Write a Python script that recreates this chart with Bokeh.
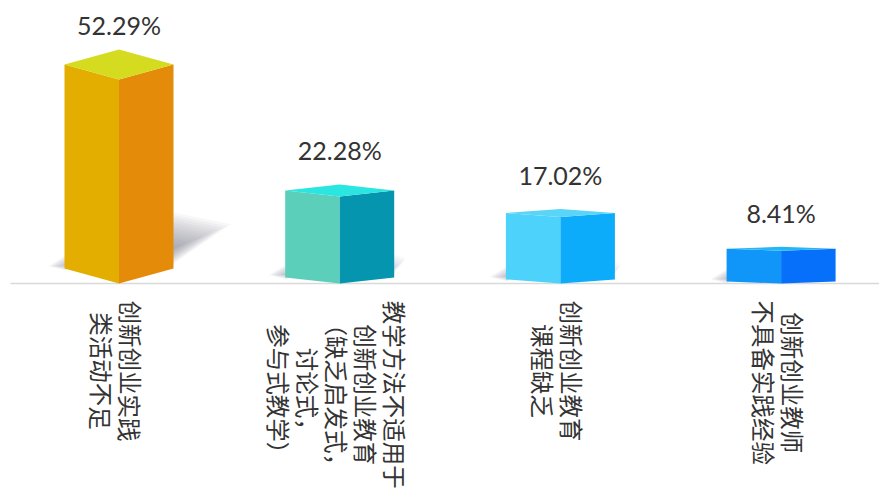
import math
from bokeh.embed import file_html
from bokeh.resources import INLINE
from bokeh.plotting import figure
from bokeh.models import Range1d
from bokeh.core.properties import value

# --- data ---
category_lines = [
    ["创新创业实践", "类活动不足"],
    ["教学方法不适用于", "创新创业教育", "（缺乏启发式，", "讨论式，", "参与式教学）"],
    ["创新创业教育", "课程缺乏"],
    ["创新创业教师", "不具备实践经验"],
]
values = [52.29, 22.28, 17.02, 8.41]
value_labels = ["52.29%", "22.28%", "17.02%", "8.41%"]
depths = [3.85, 1.55, 1.05, 0.5]          # apparent depth of the box, in % units
label_gaps = [25, 35, 34, 34]             # px from top of box to label centre
left_colors = ["#E3AE00", "#5CCFBB", "#4DD2FB", "#0F96F8"]
right_colors = ["#E58B0A", "#0695AF", "#0CACFA", "#0670FB"]
top_colors = ["#D5DC20", "#2BE6E0", "#5AD5F8", "#27B6F5"]
shadow_alpha = [0.06, 0.02, 0.012, 0.0]
shadow_reach = [0.28, 0.14, 0.10, 0.05]

W, H = 879, 490
BASE_PX = 283                 # baseline, px from figure top
PX_PER_UNIT = 3.9
X0_PX = 118.5                 # first bar centre, px from figure left
STEP_PX = 220.7
HALF_W = 54.5 / STEP_PX

p = figure(width=W, height=H, output_backend="svg", toolbar_location=None,
           x_range=Range1d(-X0_PX / STEP_PX, (W - X0_PX) / STEP_PX),
           y_range=Range1d(-(H - BASE_PX) / PX_PER_UNIT, BASE_PX / PX_PER_UNIT),
           x_axis_location=None, y_axis_location=None,
           min_border=0, outline_line_color=None, background_fill_color="white",
           border_fill_color="white")
p.grid.visible = False

# soft shadows, built up from nested translucent triangles
LAYERS = 14
for i, v in enumerate(values):
    d = depths[i]
    right = i + HALF_W
    reach = v * shadow_reach[i] * PX_PER_UNIT / STEP_PX
    core = v * 0.17
    for k in range(1, LAYERS + 1):
        f = k / LAYERS
        if shadow_alpha[i] > 0:
            p.patch([right - 0.01, right + reach * f, right - 0.01],
                    [core + (v * 0.35 - core) * f, core + (v * 0.29 - core) * f, core + (v * 0.09 - core) * f],
                    fill_color="#7d7d88", fill_alpha=shadow_alpha[i], line_color=None)
        # faint shadow at the foot on the left
        left = i - HALF_W
        p.patch([left + 0.01, left - 0.075 * f, left + 0.01],
                [d + 1.0 + 2.6 * f, d + 0.6, d + 1.0 - 1.6 * f],
                fill_color="#7d7d88", fill_alpha=0.035, line_color=None)

# baseline
p.segment(x0=[p.x_range.start + 10 / STEP_PX], x1=[p.x_range.end], y0=[0], y1=[0],
          line_color="#D9D9D9", line_width=1.5)

# boxes
for i, v in enumerate(values):
    d = depths[i]
    x_l, x_c, x_r = i - HALF_W, i, i + HALF_W
    p.patch([x_l, x_c, x_c, x_l], [d, 0, v, v + d], fill_color=left_colors[i], line_color=None)
    p.patch([x_c, x_r, x_r, x_c], [0, d, v + d, v], fill_color=right_colors[i], line_color=None)
    p.patch([x_l, x_c, x_r, x_c], [v + d, v, v + d, v + 2 * d], fill_color=top_colors[i], line_color=None)
    p.text(x=[i], y=[v + 2 * d], text=[value_labels[i]], y_offset=[-label_gaps[i]],
           text_font=value("Lato"), text_font_size="25px", text_color="#333333",
           text_align="center", text_baseline="middle")

# category labels: glyphs turned clockwise, lines stacked from right to left
CHAR = 23.8
LINE = 29
for i, lines in enumerate(category_lines):
    n = len(lines)
    longest = max(len(t) for t in lines)
    y_off = 16 + longest * CHAR / 2
    for k, t in enumerate(lines):
        x_off = -3 + ((n - 1) / 2 - k) * LINE
        p.text(x=[i], y=[0], text=[t], x_offset=[x_off], y_offset=[y_off], angle=[-math.pi / 2],
               text_font=value("Noto Sans CJK SC"), text_font_size="23.5px", text_color="#333333",
               text_align="center", text_baseline="middle")

open("out.html", "w").write(file_html(p, INLINE))
